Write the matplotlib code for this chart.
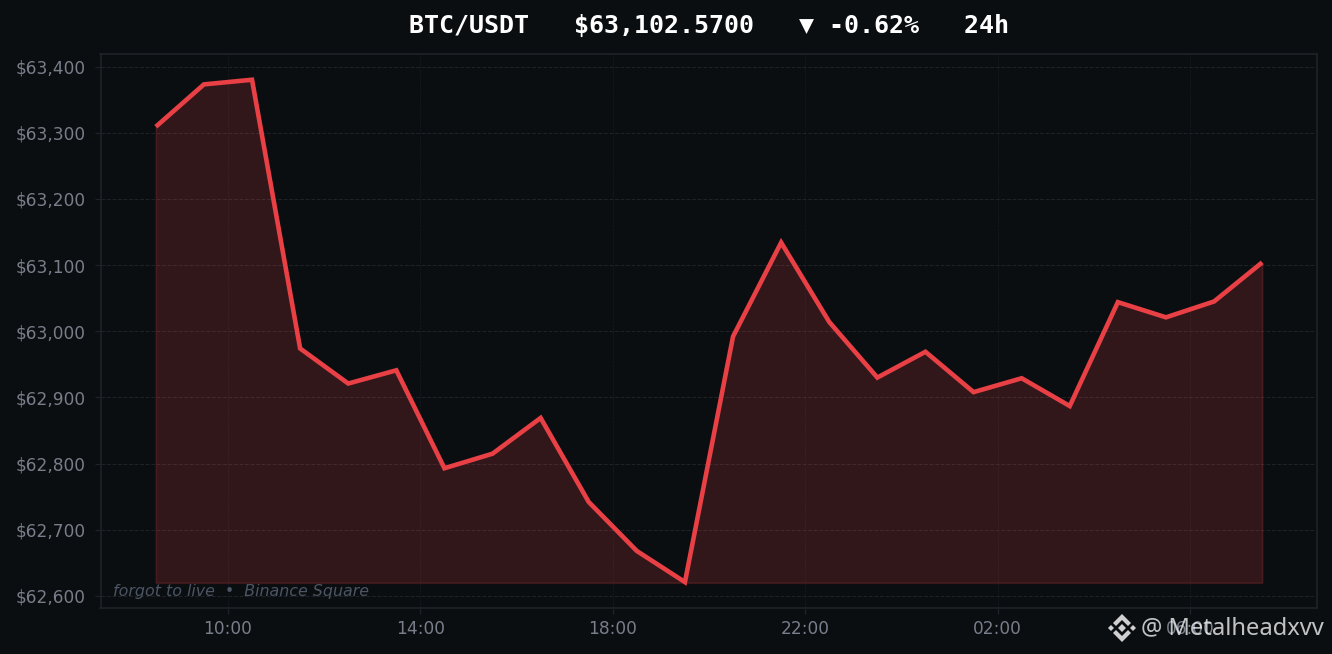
import matplotlib
matplotlib.use('Agg')
import matplotlib.pyplot as plt
from matplotlib.patches import Polygon

# hours since 00:00 of the first day
hours = [8.5, 9.5, 10.5, 11.5, 12.5, 13.5, 14.5, 15.5, 16.5, 17.5, 18.5, 19.5,
         20.5, 21.5, 22.5, 23.5, 24.5, 25.5, 26.5, 27.5, 28.5, 29.5, 30.5, 31.5]
prices = [63309, 63373, 63380, 62974, 62921, 62941, 62793, 62815, 62869, 62742, 62668, 62621,
          62992, 63134, 63014, 62930, 62969, 62908, 62929, 62887, 63044, 63021, 63045, 63104]
x_ticks = [10, 14, 18, 22, 26, 30]
x_labels = ['10:00', '14:00', '18:00', '22:00', '02:00', '06:00']
y_ticks = [62600, 62700, 62800, 62900, 63000, 63100, 63200, 63300, 63400]

BG = '#0b0e11'
RED = '#e84045'
MUTED = '#787e8a'
GRID = '#1f2328'

fig = plt.figure(figsize=(8.88, 4.36), dpi=150, facecolor=BG)
ax = fig.add_axes([100.5 / 1332, 1 - 607.5 / 654, (1317 - 100.5) / 1332, (607.5 - 54) / 654], facecolor=BG)

baseline = min(prices) - 1
ax.fill_between(hours, prices, baseline, color=RED, alpha=0.18, linewidth=0.8, zorder=2)
ax.plot(hours, prices, color=RED, linewidth=2.2, zorder=3, solid_joinstyle='miter', solid_capstyle='butt')

ax.set_xlim(7.35, 32.64)
ax.set_ylim(62582.6, 63418.9)
ax.set_xticks(x_ticks)
ax.set_xticklabels(x_labels)
ax.set_yticks(y_ticks)
ax.set_yticklabels([f'${v:,}' for v in y_ticks])
ax.tick_params(colors=GRID, labelcolor=MUTED, labelsize=8.2, length=3, width=0.6)
ax.tick_params(axis='x', pad=3)
ax.tick_params(axis='y', pad=4)
ax.grid(True, axis='y', color=GRID, linestyle='--', linewidth=0.5, zorder=1)
ax.grid(True, axis='x', color=GRID, linestyle='--', linewidth=0.3, alpha=0.7, zorder=1)
for spine in ax.spines.values():
    spine.set_color(GRID)
    spine.set_linewidth(0.8)

fig.text(709 / 1332, 1 - 26 / 654, 'BTC/USDT   $63,102.5700   ▼ -0.62%   24h',
         family='DejaVu Sans Mono', fontweight='bold', fontsize=12, color='white', ha='center', va='center')
ax.text(0.0103, 0.0295, 'forgot to live  •  Binance Square', transform=ax.transAxes,
        fontsize=7.6, style='italic', color='#4b5563', va='center')

# watermark, logo then handle
def add_shape(pts_px):
    pts = [(px / 1332, 1 - py / 654) for px, py in pts_px]
    fig.add_artist(Polygon(pts, closed=True, transform=fig.transFigure, color='#d0d0d0', lw=0))

def diamond(cx, cy, r):
    return [(cx - r, cy), (cx, cy - r), (cx + r, cy), (cx, cy + r)]

add_shape(diamond(1122, 628, 4))
add_shape(diamond(1111, 628, 3))
add_shape(diamond(1133, 628, 3))
add_shape([(1122, 614), (1131, 623), (1128, 626), (1122, 620), (1116, 626), (1113, 623)])
add_shape([(1122, 642), (1131, 633), (1128, 630), (1122, 636), (1116, 630), (1113, 633)])
fig.text(1141 / 1332, 1 - 628 / 654, '@ Metalheadxvv', family='Noto Sans', fontsize=11.4,
         color='white', alpha=0.75, ha='left', va='center')

fig.savefig('out.png', dpi=150, facecolor=BG)
